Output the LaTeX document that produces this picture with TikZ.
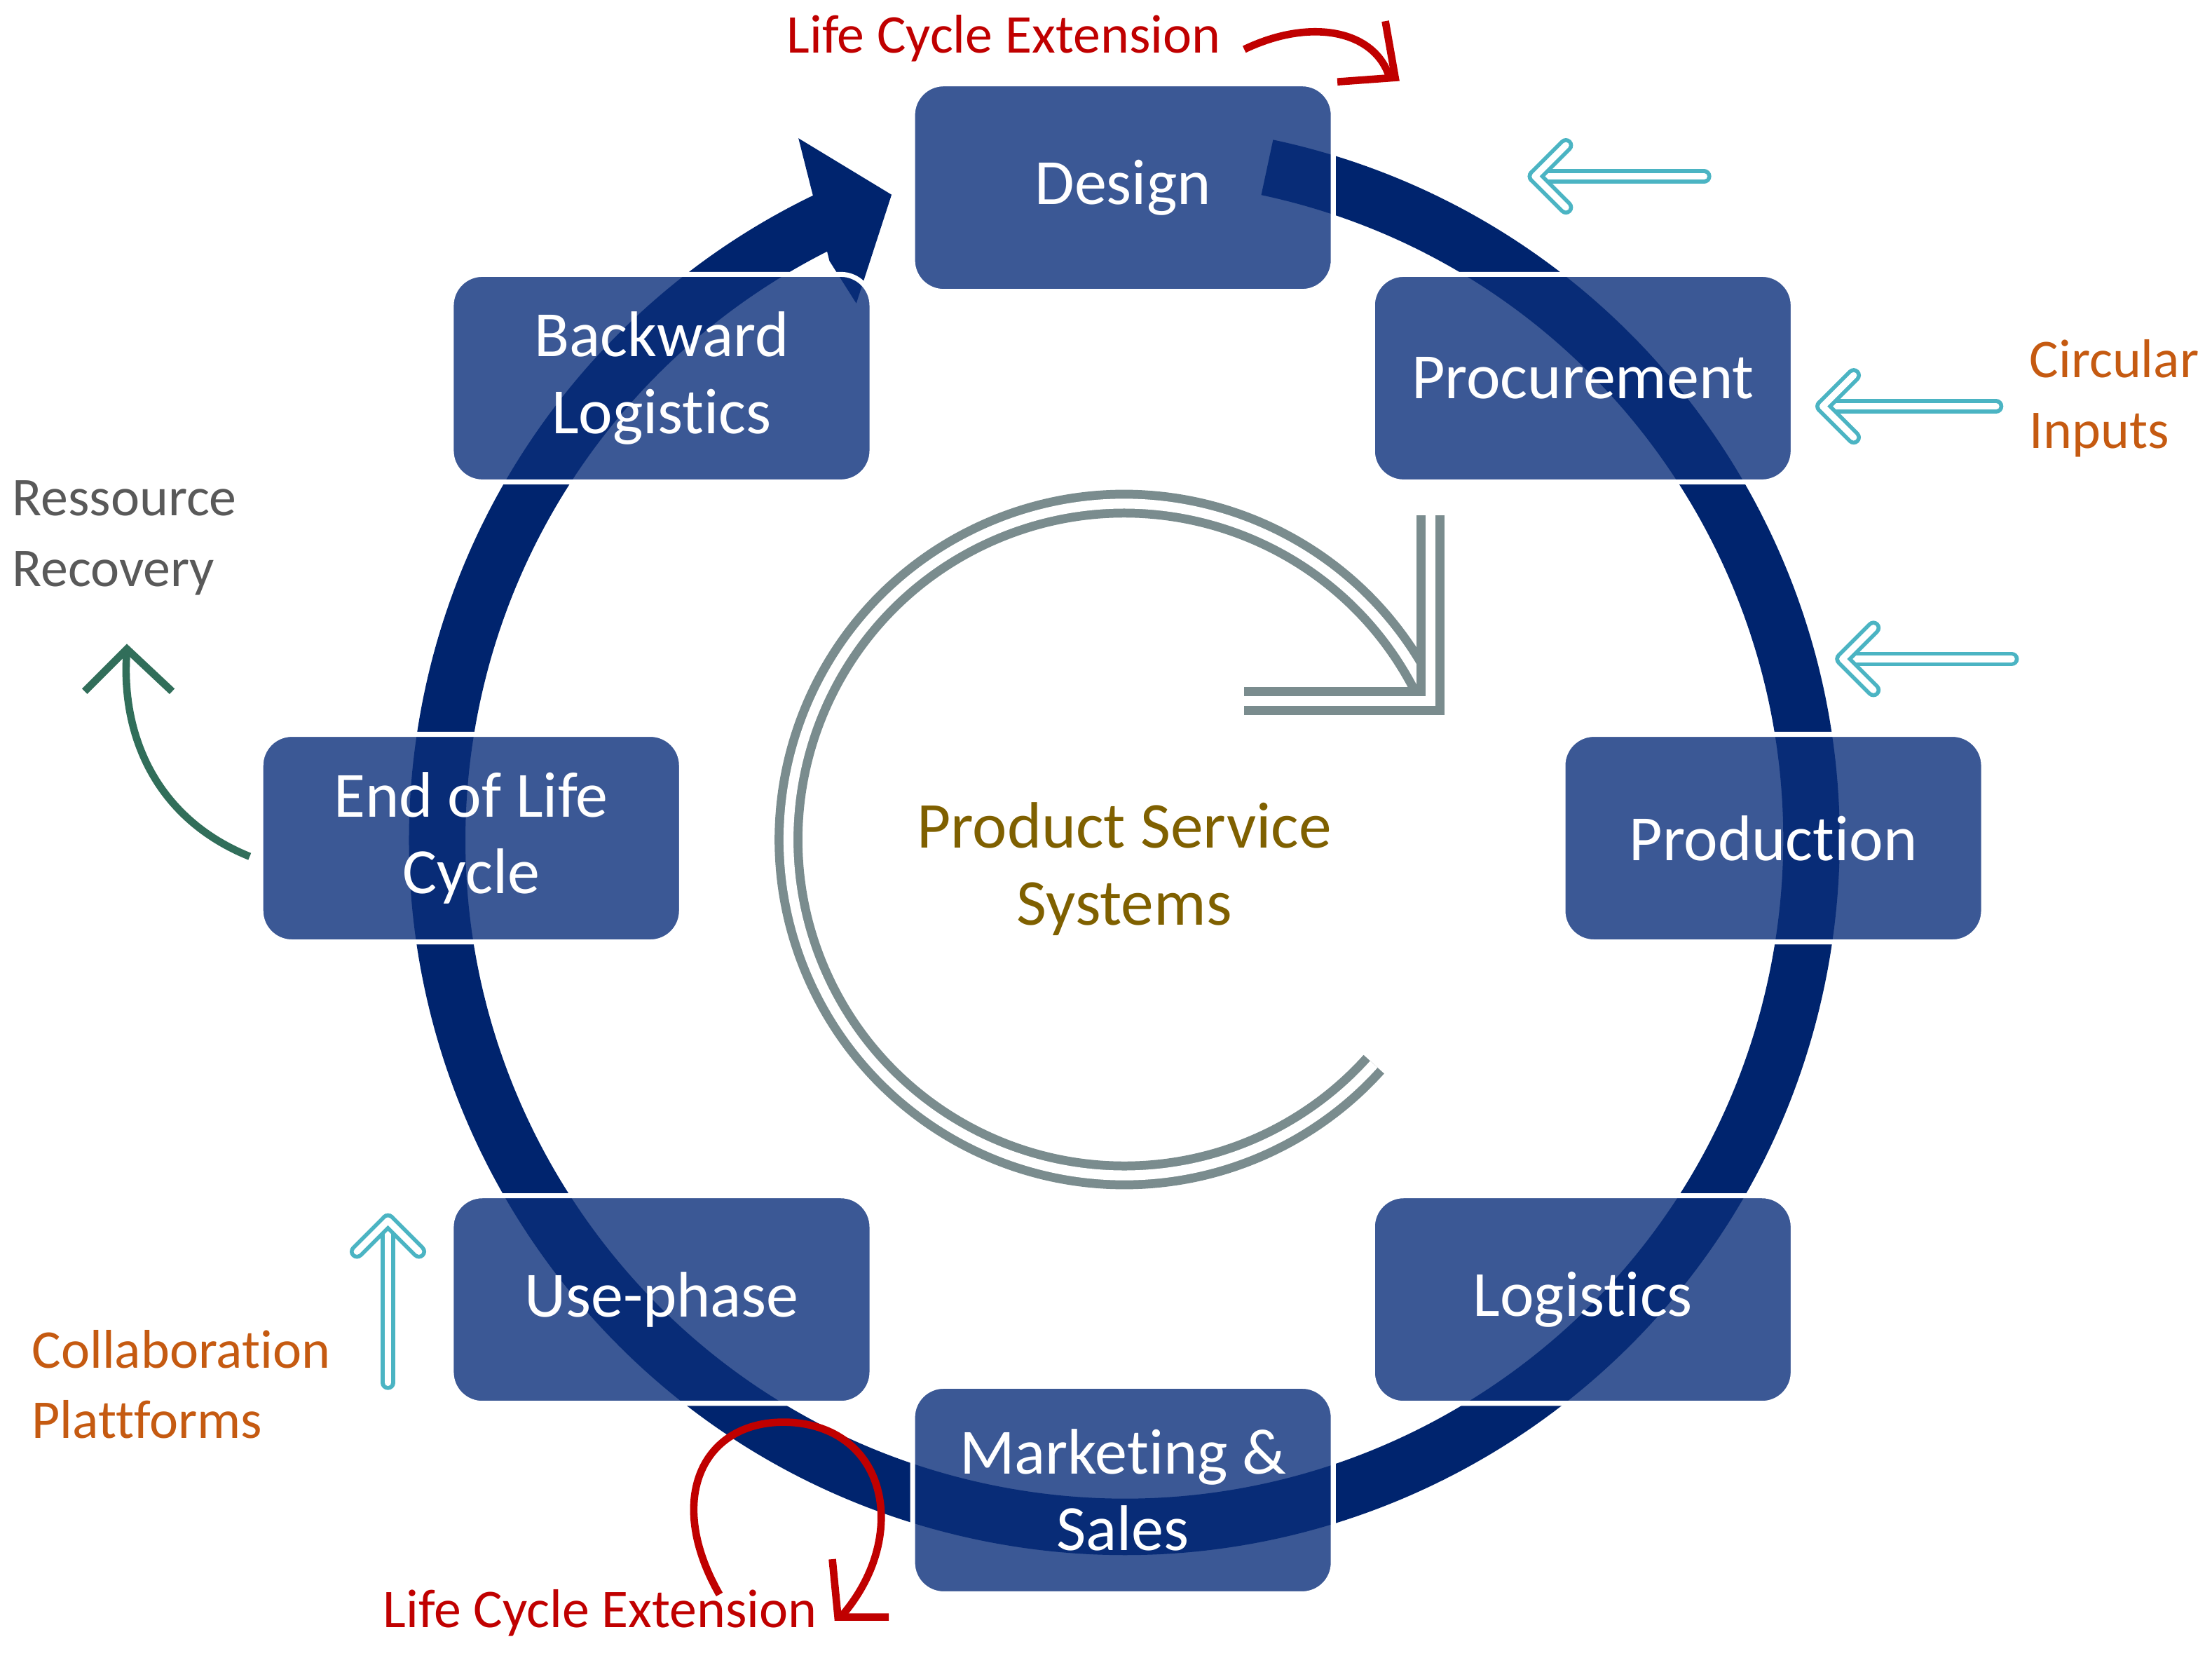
\documentclass[tikz,border=0pt]{standalone}
\usepackage{fontspec}
\setmainfont{Carlito}[RawFeature={-liga}]
\usetikzlibrary{arrows.meta}
\definecolor{ring}{RGB}{0,36,110}
\definecolor{boxc}{RGB}{10,46,122}
\definecolor{grayarc}{RGB}{122,140,142}
\definecolor{cyanar}{RGB}{75,180,195}
\definecolor{redl}{RGB}{192,0,0}
\definecolor{orangel}{RGB}{197,90,17}
\definecolor{olive}{RGB}{127,96,0}
\definecolor{greenar}{RGB}{49,110,90}
\definecolor{grayt}{RGB}{89,89,89}
\begin{document}
\begin{tikzpicture}[x=0.01cm,y=-0.01cm,
  box/.style={draw=white,line width=1pt,fill=boxc,fill opacity=0.8,text opacity=1,rounded corners=0.22cm,
    minimum width=2.98cm,minimum height=1.47cm,text=white,font=\fontsize{13}{15.5}\selectfont,align=center,inner sep=0pt},
  lbl/.style={font=\fontsize{11}{14.2}\selectfont,align=left,inner sep=0pt,anchor=north west},
  cy/.style={draw=cyanar,double=white,double distance=1.3pt,line width=0.8pt,line cap=round,line join=round},
  gd/.style={draw=grayarc,double=white,double distance=2pt,line width=1.8pt}]
\useasboundingbox (0,0) rectangle (1568,1180);
% ring
\draw[ring,line width=0.4cm] (797,595) ++(-78:487) arc[start angle=-78,end angle=245,radius=487];
\fill[ring] (566,98) -- (632,138) -- (607,215) -- (588,185) -- cycle;
% boxes
\node[box] (design) at (796,133) {Design};
\node[box] (proc) at (1122,268) {Procurement};
\node[box] (prod) at (1257,594) {Production};
\node[box] (log) at (1122,921) {Logistics};
\node[box] (mkt) at (796,1056) {Marketing \&\\Sales};
\node[box] (use) at (469,921) {Use-phase};
\node[box] (eol) at (334,594) {End of Life\\Cycle};
\node[box] (back) at (469,268) {Backward\\Logistics};
% inner gray arrow
\draw[gd] (797,595) ++(-25:238) arc[start angle=-25,end angle=-318,radius=238];
\draw[gd] (1014,365) -- (1014,497) -- (882,497);
\node[font=\fontsize{13.2}{15.5}\selectfont,text=olive,align=center] (pss) at (797,616) {Product Service\\Systems};
% cyan arrows
\coordinate (c1s) at (1208,125); \coordinate (c1e) at (1088,125);
\coordinate (c2s) at (1415,288); \coordinate (c2e) at (1292,288);
\coordinate (c3s) at (1426,467); \coordinate (c3e) at (1306,467);
\coordinate (c4s) at (275,980); \coordinate (c4e) at (275,865);
\draw[cy] (c1s) -- (c1e); \draw[cy] ([shift={(22,-22)}]c1e) -- (c1e) -- ([shift={(22,22)}]c1e);
\draw[cy] (c2s) -- (c2e); \draw[cy] ([shift={(22,-22)}]c2e) -- (c2e) -- ([shift={(22,22)}]c2e);
\draw[cy] (c3s) -- (c3e); \draw[cy] ([shift={(22,-22)}]c3e) -- (c3e) -- ([shift={(22,22)}]c3e);
\draw[cy] (c4s) -- (c4e); \draw[cy] ([shift={(-22,22)}]c4e) -- (c4e) -- ([shift={(22,22)}]c4e);
% labels
\node[lbl,text=redl] (lce1) at (557,10) {Life Cycle Extension};
\node[lbl,text=redl] (lce2) at (271,1126) {Life Cycle Extension};
\node[lbl,text=orangel] (ci) at (1438,240) {Circular\\Inputs};
\node[lbl,text=orangel] (cp) at (22,942) {Collaboration\\Plattforms};
\node[lbl,text=grayt] (rr) at (8,340) {Ressource\\Recovery};
% red arrows
\coordinate (r1a) at (882,35); \coordinate (r1b) at (985,55);
\draw[redl,line width=1.5pt] (r1a) .. controls (930,12) and (975,22) .. (r1b);
\draw[redl,line width=1.5pt] (948,58) -- (989,55) -- (982,15);
\coordinate (r2a) at (510,1130); \coordinate (r2b) at (596,1146);
\draw[redl,line width=1.5pt] (r2a) .. controls (470,1060) and (500,1005) .. (560,1008) .. controls (630,1012) and (645,1090) .. (r2b);
\draw[redl,line width=1.5pt] (590,1105) -- (594,1146) -- (630,1146);
% green arrow
\coordinate (g1) at (177,607); \coordinate (g2) at (90,460);
\draw[greenar,line width=1.5pt] (g1) .. controls (110,580) and (85,520) .. (g2);
\draw[greenar,line width=1.5pt] (60,490) -- (90,460) -- (122,490);
\end{tikzpicture}
\end{document}
